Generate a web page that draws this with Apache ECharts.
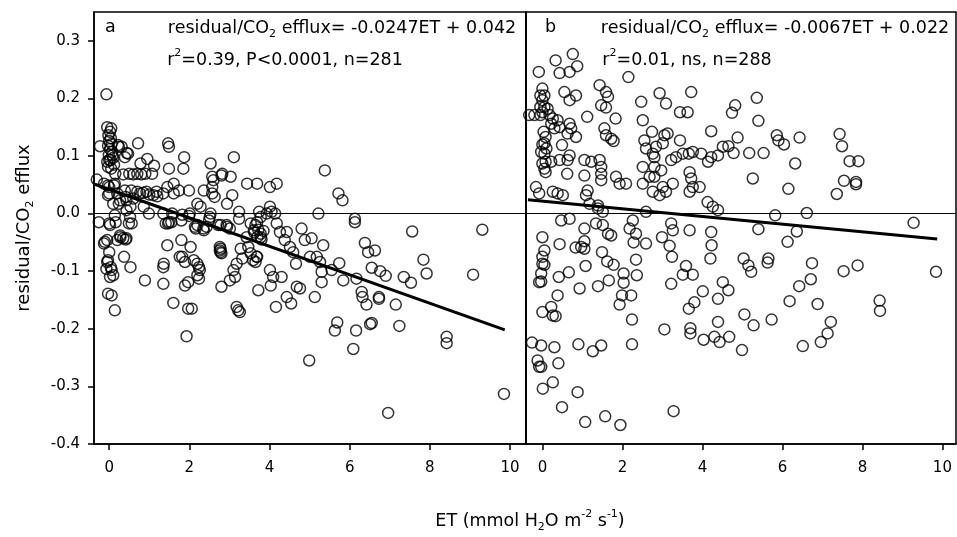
<!DOCTYPE html>
<html><head><meta charset="utf-8">
<script src="https://cdn.jsdelivr.net/npm/echarts@6/dist/echarts.min.js"></script>
<style>html,body{margin:0;padding:0;background:#fff}#c{width:957px;height:537px}</style>
</head><body><div id="c"></div>
<script>
const xTicks = [0, 2, 4, 6, 8, 10];
const yTicks = [-0.4, -0.3, -0.2, -0.1, 0, 0.1, 0.2, 0.3];

// panel a: [ET, residual/CO2 efflux]
const pointsA = [
[-0.07,0.207],
[-0.05,0.150],[0.05,0.148],[0.02,0.142],[-0.02,0.136],[0.04,0.131],[0.0,0.126],[0.06,0.121],[-0.03,0.118],[0.02,0.112],[0.07,0.107],[-0.01,0.102],[0.1,0.097],[0.03,0.093],[-0.05,0.09],[0.12,0.085],[0.05,0.078],
[-0.23,0.117],[0.24,0.116],[0.22,0.119],[0.31,0.116],[0.72,0.122],[1.47,0.122],[1.49,0.116],
[1.87,0.098],[1.85,0.078],[3.11,0.098],[2.53,0.087],[0.44,0.105],[0.39,0.098],[0.47,0.104],
[0.95,0.095],[1.12,0.083],[0.78,0.087],[1.49,0.078],[2.82,0.069],[3.03,0.064],
[2.57,0.064],[2.57,0.046],[2.57,0.035],[3.44,0.052],[3.69,0.052],[3.07,0.032],[-0.31,0.059],
[0.15,0.069],[0.35,0.068],[0.5,0.069],[0.6,0.068],[0.7,0.069],[0.8,0.068],[0.9,0.069],[1.07,0.069],
[-0.03,0.081],[0.0,0.093],[0.08,0.101],[-0.13,0.052],[0.0,0.046],[0.12,0.049],
[0.0,0.035],[0.2,0.035],[0.41,0.029],
[0.55,0.04],[0.7,0.038],[0.85,0.036],[1.0,0.033],[1.2,0.03],[1.35,0.035],
[1.45,0.046],[1.61,0.052],[1.74,0.040],[1.99,0.040],[1.61,0.035],[2.36,0.040],
[2.2,0.017],[2.28,0.012],[2.94,0.017],[3.24,0.003],[3.24,-0.009],[3.74,0.003],[3.78,-0.006],
[0.24,0.017],[0.53,0.012],[0.86,0.012],[0.99,0.0],[1.57,0.0],[1.49,-0.015],[1.41,-0.017],
[1.82,-0.002],[1.99,-0.004],[2.53,0.0],[2.49,-0.012],[2.2,-0.02],[2.36,-0.029],[2.16,-0.026],
[2.78,-0.02],[2.94,-0.023],[3.53,-0.017],[3.69,-0.015],[3.61,-0.029],[3.78,-0.041],
[-0.26,-0.015],[0.0,-0.017],[0.16,-0.015],[0.49,-0.017],
[-0.05,-0.046],[-0.13,-0.052],[0.28,-0.041],[0.41,-0.045],[0.2,-0.046],
[0.0,-0.067],[-0.05,-0.084],[0.04,-0.093],[0.37,-0.075],[0.53,-0.093],
[1.45,-0.055],[1.8,-0.046],[2.03,-0.058],[1.82,-0.075],[2.11,-0.081],
[1.36,-0.087],[2.78,-0.061],[2.78,-0.067],[3.28,-0.061],[3.32,-0.078],[3.53,-0.069],[3.69,-0.075],[3.65,-0.084],
[-0.03,0.049],[0.14,0.052],[0.39,0.04],[-0.03,0.032],[0.1,0.017],
[0.27,0.023],[0.43,0.023],[0.6,0.026],[0.77,0.035],[0.93,0.038],[1.1,0.032],[1.18,0.038],
[0.43,0.006],[0.52,-0.006],[0.56,-0.017],[0.14,-0.003],[0.02,-0.02],
[0.27,-0.038],[0.35,-0.043],[0.43,-0.043],[-0.11,-0.049],[-0.03,-0.081],
[-0.07,-0.096],[0.06,-0.098],[0.02,-0.11],[0.1,-0.107],[-0.03,-0.139],[0.06,-0.142],[0.14,-0.168],
[0.89,-0.116],[1.35,-0.093],[1.35,-0.122],[1.6,-0.155],[1.76,-0.075],[1.89,-0.084],
[1.89,-0.125],[1.97,-0.119],[1.97,-0.165],[2.06,-0.165],[1.93,-0.213],
[2.2,-0.087],[2.24,-0.093],[2.26,-0.098],[2.2,-0.107],[2.24,-0.113],
[1.35,0.0],[1.47,-0.017],[1.55,-0.015],[1.8,-0.012],[2.01,0.0],
[2.14,-0.023],[2.35,-0.026],[2.43,-0.023],[2.6,0.058],[2.63,0.029],[2.8,0.066],
[2.51,-0.006],[2.72,-0.02],[2.76,-0.064],[2.76,-0.058],[2.8,-0.069],[3.01,-0.026],[2.93,-0.02],
[2.8,-0.127],[3.01,-0.116],[3.1,-0.098],[3.18,-0.087],[3.14,-0.11],
[3.18,-0.162],[3.22,-0.168],[3.26,-0.171],
[3.43,-0.041],[3.47,-0.058],[3.59,-0.081],[3.68,-0.075],[4.01,0.046],[4.18,0.052],
[3.65,-0.02],[3.72,-0.028],[3.78,-0.035],[3.7,-0.04],[3.85,-0.03],[3.8,-0.045],[3.62,-0.033],
[3.72,-0.133],[4.01,0.012],[4.05,0.003],[4.14,0.0],[3.93,0.0],
[4.01,-0.098],[4.09,-0.11],[4.03,-0.125],[4.3,-0.11],[4.16,-0.162],
[4.18,-0.017],[4.26,-0.032],[4.43,-0.032],[4.38,-0.046],[4.51,-0.058],[4.59,-0.067],[4.66,-0.087],
[4.8,-0.026],[4.88,-0.046],[5.05,-0.043],[5.18,-0.075],[5.01,-0.075],
[4.43,-0.145],[4.54,-0.156],[4.68,-0.127],[5.13,-0.145],[5.22,0.0],
[5.38,0.075],[5.72,0.035],[5.82,0.023],[6.13,-0.009],[6.13,-0.015],
[7.56,-0.031],[9.31,-0.028],[5.34,-0.055],[6.38,-0.051],[6.46,-0.067],[6.63,-0.064],
[7.84,-0.08],[7.92,-0.104],[9.08,-0.106],
[5.26,-0.084],[5.3,-0.101],[5.55,-0.098],[5.74,-0.086],
[5.3,-0.119],[5.84,-0.116],[6.17,-0.113],[6.55,-0.094],[6.76,-0.1],[6.9,-0.108],
[7.35,-0.11],[7.53,-0.12],[4.76,-0.13],
[6.3,-0.136],[6.32,-0.145],[6.42,-0.158],[6.73,-0.145],[6.73,-0.148],[7.15,-0.158],
[5.69,-0.189],[5.63,-0.203],[6.16,-0.203],[6.51,-0.192],[6.55,-0.19],[7.24,-0.195],
[8.42,-0.214],[8.42,-0.225],[6.09,-0.235],
[4.99,-0.255],[6.96,-0.346],[9.85,-0.313]
];

// panel b: [ET, residual/CO2 efflux]
const pointsB = [
[0.76,0.277],[0.33,0.266],[0.87,0.256],[0.68,0.246],[0.43,0.244],[-0.09,0.246],[2.15,0.237],
[0.0,0.217],[-0.05,0.205],[0.05,0.205],[0.0,0.197],[0.05,0.185],[-0.05,0.185],[0.0,0.176],[-0.05,0.171],
[-0.33,0.171],[-0.2,0.171],
[0.13,0.182],[0.18,0.171],[0.26,0.165],[0.38,0.162],[0.22,0.156],[0.43,0.15],[0.3,0.148],
[0.55,0.211],[0.68,0.197],[0.84,0.205],[0.68,0.156],[0.72,0.148],[0.63,0.139],[0.84,0.133],
[1.12,0.168],[1.43,0.223],[1.59,0.211],[1.64,0.203],[1.47,0.188],[1.59,0.184],[1.83,0.165],
[1.55,0.148],[1.59,0.136],[1.72,0.13],[1.78,0.126],
[2.47,0.194],[2.93,0.209],[3.09,0.191],[3.72,0.211],[3.44,0.176],[3.63,0.176],[2.51,0.162],[4.22,0.143],
[2.74,0.142],[3.05,0.136],[3.13,0.139],[2.55,0.127],[2.59,0.113],[2.84,0.116],[3.01,0.122],[2.76,0.104],[2.8,0.098],
[3.44,0.127],[3.34,0.098],[3.51,0.104],[3.66,0.104],[3.76,0.107],[3.97,0.104],[4.22,0.098],[4.51,0.116],[4.39,0.101],[4.14,0.09],
[3.22,0.093],
[0.03,0.142],[0.08,0.133],[0.05,0.122],[0.0,0.12],[0.1,0.113],[-0.03,0.107],[0.05,0.104],[0.08,0.09],[0.0,0.087],[0.05,0.078],[0.08,0.072],
[0.49,0.119],[0.22,0.09],[0.43,0.093],[0.63,0.093],[0.68,0.101],[0.62,0.069],
[1.05,0.093],[1.22,0.09],[1.43,0.093],[1.05,0.066],[1.47,0.069],[1.47,0.081],[1.47,0.058],
[1.84,0.064],[2.09,0.052],[1.93,0.052],
[2.51,0.081],[2.8,0.081],[2.97,0.075],[2.68,0.064],[2.8,0.064],[2.51,0.052],[3.01,0.046],[2.76,0.038],[2.93,0.032],[3.09,0.038],[3.26,0.052],[3.68,0.072],[3.72,0.061],[3.76,0.046],[3.68,0.038],[3.93,0.046],
[-0.16,0.046],[-0.08,0.035],[0.26,0.038],[0.38,0.035],[0.51,0.032],
[1.13,0.04],[1.09,0.032],[1.18,0.017],[1.39,0.014],[1.51,0.003],[1.39,0.009],
[2.59,0.003],[4.13,0.02],[4.39,0.006],[4.26,0.012],
[0.47,-0.012],[0.68,-0.009],[1.05,-0.026],[1.34,-0.017],[1.51,-0.02],[2.26,-0.012],[1.64,-0.035],[1.72,-0.038],[2.34,-0.035],[3.22,-0.017],[3.26,-0.029],[3.68,-0.029],[4.22,-0.032],
[0.0,-0.041],[2.18,-0.026],
[0.43,-0.053],[0.83,-0.059],[0.97,-0.058],[1.05,-0.061],[1.05,-0.048],
[1.49,-0.067],[1.62,-0.083],[1.78,-0.089],
[2.28,-0.05],[2.59,-0.052],[2.34,-0.08],[2.36,-0.107],
[2.99,-0.041],[3.18,-0.056],[3.24,-0.075],[4.23,-0.055],[4.2,-0.078],
[3.59,-0.091],[3.51,-0.106],[3.76,-0.106],[3.22,-0.122],
[4.01,-0.135],[3.8,-0.154],[3.66,-0.165],[4.39,-0.148],[4.51,-0.119],
[0.0,-0.075],[0.0,-0.087],[0.05,-0.089],[0.05,-0.064],[-0.03,-0.104],[-0.03,-0.118],[-0.08,-0.119],
[0.41,-0.11],[0.66,-0.102],[0.38,-0.142],[1.08,-0.091],
[0.93,-0.13],[1.39,-0.126],[1.66,-0.116],
[2.03,-0.104],[2.03,-0.12],[1.99,-0.142],[1.93,-0.158],[2.22,-0.142],
[0.0,-0.171],[0.22,-0.162],[0.26,-0.177],[0.33,-0.178],[2.24,-0.184],
[3.05,-0.201],[3.7,-0.199],[3.7,-0.208],[4.03,-0.219],[4.3,-0.214],[4.43,-0.223],[4.39,-0.188],
[-0.26,-0.224],[-0.03,-0.229],[0.3,-0.232],[0.9,-0.227],[1.26,-0.239],[1.47,-0.229],[2.24,-0.227],
[-0.12,-0.255],[-0.08,-0.266],[-0.03,-0.266],[0.4,-0.26],
[0.26,-0.293],[0.01,-0.304],[0.88,-0.31],[0.49,-0.336],
[3.28,-0.343],[1.07,-0.362],[1.57,-0.352],[1.95,-0.367],
[5.36,0.201],[4.82,0.188],[4.74,0.175],[5.4,0.161],
[4.65,0.117],[4.78,0.105],[4.88,0.132],[5.17,0.105],[5.53,0.105],
[5.86,0.136],[5.9,0.127],[6.04,0.12],[6.43,0.132],[6.32,0.087],
[7.43,0.138],[7.49,0.117],[7.68,0.091],[7.9,0.091],
[5.26,0.061],[7.54,0.057],[7.84,0.055],[7.84,0.051],
[6.15,0.043],[7.36,0.034],[5.82,-0.003],[6.61,0.001],
[5.4,-0.027],[6.36,-0.031],[6.13,-0.049],[9.28,-0.016],
[5.03,-0.078],[5.15,-0.09],[5.22,-0.101],[5.65,-0.078],[5.63,-0.085],
[6.74,-0.086],[6.71,-0.114],[6.42,-0.126],[6.18,-0.152],[6.88,-0.157],
[7.53,-0.1],[7.88,-0.09],[9.84,-0.101],
[5.05,-0.175],[5.28,-0.194],[5.73,-0.184],
[7.21,-0.188],[7.13,-0.208],[6.96,-0.223],[6.51,-0.23],
[8.43,-0.151],[8.44,-0.169],[4.99,-0.237],[4.67,-0.214],[4.65,-0.133]
];

// regression lines (endpoints)
const fitA = [[-0.36, 0.051], [9.87, -0.202]];
const fitB = [[-0.36, 0.024], [9.87, -0.044]];

const FONT = 'DejaVu Sans';
const chart = echarts.init(document.getElementById('c'), null, {renderer: 'canvas'});

const richTxt = {
  s: {fontSize: 11, fontFamily: FONT, color: '#000', verticalAlign: 'bottom', lineHeight: 24},
  u: {fontSize: 11, fontFamily: FONT, color: '#000', verticalAlign: 'top', lineHeight: 24},
  n: {fontSize: 17.5, fontFamily: FONT, color: '#000', lineHeight: 24}
};

function gtext(x, y, text, align) {
  return {type: 'text', x: x, y: y, silent: true,
    style: {text: text, rich: richTxt, fontSize: 17.5, fontFamily: FONT, fill: '#000',
      align: align || 'left', verticalAlign: 'middle'}};
}

const scatterStyle = {color: 'rgba(0,0,0,0)', borderColor: '#000', borderWidth: 1.5};

const option = {
  animation: false,
  backgroundColor: '#fff',
  grid: [
    {left: 94, top: 12, width: 432, height: 432, show: true, borderColor: '#000', borderWidth: 1.5, backgroundColor: 'transparent'},
    {left: 526, top: 12, width: 430, height: 432, show: true, borderColor: '#000', borderWidth: 1.5, backgroundColor: 'transparent'}
  ],
  xAxis: [
    {type: 'value', gridIndex: 0, min: -0.38, max: 10.4,
     axisLine: {show: true, onZero: false, lineStyle: {color: '#000', width: 1.5}},
     axisTick: {show: true, length: 6, customValues: xTicks, lineStyle: {color: '#000', width: 1.5}},
     axisLabel: {customValues: xTicks, fontSize: 15, fontFamily: FONT, color: '#000', margin: 17},
     splitLine: {show: false}},
    {type: 'value', gridIndex: 1, min: -0.41, max: 10.34,
     axisLine: {show: true, onZero: false, lineStyle: {color: '#000', width: 1.5}},
     axisTick: {show: true, length: 6, customValues: xTicks, lineStyle: {color: '#000', width: 1.5}},
     axisLabel: {customValues: xTicks, fontSize: 15, fontFamily: FONT, color: '#000', margin: 17},
     splitLine: {show: false}}
  ],
  yAxis: [
    {type: 'value', gridIndex: 0, min: -0.4, max: 0.35,
     axisLine: {show: true, onZero: false, lineStyle: {color: '#000', width: 1.5}},
     axisTick: {show: true, length: 6, customValues: yTicks, lineStyle: {color: '#000', width: 1.5}},
     axisLabel: {customValues: yTicks, fontSize: 15, fontFamily: FONT, color: '#000', margin: 14,
       formatter: v => (Math.abs(v) < 1e-9 ? 0 : v).toFixed(1)},
     splitLine: {show: false},
     name: 'residual/CO{s|2} efflux', nameLocation: 'middle', nameGap: 58, nameRotate: 90,
     nameTextStyle: {fontSize: 18, fontFamily: FONT, color: '#000',
       rich: {s: {fontSize: 11, fontFamily: FONT, color: '#000', verticalAlign: 'bottom', lineHeight: 24}}}},
    {type: 'value', gridIndex: 1, min: -0.4, max: 0.35,
     axisLine: {show: true, onZero: false, lineStyle: {color: '#000', width: 1.5}},
     axisTick: {show: false}, axisLabel: {show: false}, splitLine: {show: false}}
  ],
  series: [
    {type: 'scatter', xAxisIndex: 0, yAxisIndex: 0, data: pointsA, symbol: 'circle', symbolSize: 11,
     itemStyle: scatterStyle, silent: true,
     markLine: {silent: true, symbol: ['none', 'none'], label: {show: false},
       lineStyle: {color: '#000', width: 1.2, type: 'solid'}, data: [{yAxis: 0}]}},
    {type: 'scatter', xAxisIndex: 1, yAxisIndex: 1, data: pointsB, symbol: 'circle', symbolSize: 11,
     itemStyle: scatterStyle, silent: true,
     markLine: {silent: true, symbol: ['none', 'none'], label: {show: false},
       lineStyle: {color: '#000', width: 1.2, type: 'solid'}, data: [{yAxis: 0}]}},
    {type: 'line', xAxisIndex: 0, yAxisIndex: 0, data: fitA, showSymbol: false, symbol: 'none',
     lineStyle: {color: '#000', width: 3}, silent: true},
    {type: 'line', xAxisIndex: 1, yAxisIndex: 1, data: fitB, showSymbol: false, symbol: 'none',
     lineStyle: {color: '#000', width: 3}, silent: true}
  ],
  graphic: [
    gtext(105, 27, '{n|a}'),
    gtext(342, 28, '{n|residual/CO}{s|2}{n| efflux= -0.0247ET + 0.042}', 'center'),
    gtext(285, 60, '{n|r}{u|2}{n|=0.39, P<0.0001, n=281}', 'center'),
    gtext(545, 27, '{n|b}'),
    gtext(775, 28, '{n|residual/CO}{s|2}{n| efflux= -0.0067ET + 0.022}', 'center'),
    gtext(687, 60, '{n|r}{u|2}{n|=0.01, ns, n=288}', 'center'),
    gtext(530, 521, '{n|ET (mmol H}{s|2}{n|O m}{u|-2}{n| s}{u|-1}{n|)}', 'center')
  ]
};
chart.setOption(option);
</script>
</body></html>
